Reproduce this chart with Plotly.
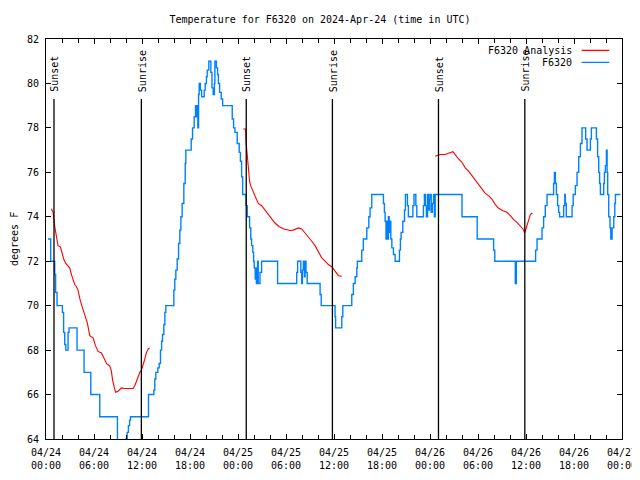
import plotly.graph_objects as go
import pandas as pd

START = pd.Timestamp("2024-04-24 00:00")
END = pd.Timestamp("2024-04-27 00:00")

# Observed F6320 temperatures (hours since 04/24 00:00 UTC, degrees F)
obs_hours = [0.25, 0.59, 1.09, 1.2, 1.38, 2.05, 2.2, 2.34, 2.47, 2.76, 2.88, 3.88, 4.76, 5.6, 6.72,
             8.93, 10.0, 10.15, 10.3, 10.45, 10.56, 12.81, 13.48, 13.6, 13.73, 13.98, 14.15, 14.31,
             14.45, 14.56, 14.73, 14.86, 14.98, 15.82, 15.98, 16.1, 16.23, 16.4, 16.57, 16.73, 16.86,
             17.02, 17.23, 17.4, 17.48, 18.03, 18.15, 18.32, 18.52, 18.69, 18.78, 18.9, 18.98, 19.07,
             19.15, 19.3, 19.45, 19.78, 19.9, 20.05, 20.15, 20.35, 20.61, 20.75, 20.9, 21.05, 21.11,
             21.3, 21.45, 21.55, 21.7, 21.9, 22.08, 23.28, 23.45, 23.62, 23.9, 24.15, 24.3, 24.45,
             24.58, 25.0, 25.16, 25.45, 25.6, 25.7, 25.85, 25.95, 26.03, 26.15, 26.2, 26.3, 26.45,
             26.53, 26.75, 26.95, 28.95, 31.34, 31.45, 31.85, 31.96, 32.05, 32.17, 32.3, 32.38, 32.5,
             32.65, 34.26, 34.4, 36.13, 36.2, 36.97, 37.1, 38.22, 38.42, 38.64, 38.85, 38.92, 39.47,
             39.67, 40.1, 40.35, 40.51, 40.72, 42.18, 42.3, 42.39, 42.5, 42.6, 42.7, 42.8, 42.9, 43.02,
             43.1, 43.23, 43.43, 43.64, 44.18, 44.3, 44.39, 44.6, 44.81, 44.93, 45.18, 45.3, 45.86,
             46.0, 46.23, 46.35, 47.18, 47.3, 47.43, 47.55, 47.69, 47.85, 47.94, 48.05, 48.15, 48.3,
             48.44, 48.55, 48.65, 52.0, 53.9, 55.95, 56.1, 58.66, 58.79, 61.2, 61.38, 62.0, 62.2,
             62.41, 62.63, 63.45, 63.55, 63.67, 63.8, 63.95, 64.08, 64.2, 64.71, 64.85, 64.92, 65.04,
             65.76, 65.9, 66.17, 66.38, 66.59, 66.8, 67.0, 67.46, 67.63, 68.05, 68.17, 68.8, 68.95,
             69.09, 69.2, 69.3, 69.71, 69.8, 69.92, 70.05, 70.14, 70.21, 70.34, 70.5, 70.6, 70.76,
             70.97, 71.1, 71.18, 71.8]
obs_temps = [73, 72, 71.4, 70.6, 70, 69.7, 68.8, 68.25, 68, 68.8, 69, 68, 67, 66, 65,
             63, 64, 64.3, 64.6, 64.85, 65, 66, 66.2, 66.7, 67.0, 67.2, 67.4, 68.0,
             68.4, 68.7, 69.15, 69.7, 70, 70, 70.7, 71.2, 71.6, 72.1, 72.8, 73.4, 74.0,
             74.6, 75.5, 76.4, 77, 77, 77.5, 78, 78.5, 79, 78.5, 79, 78, 79.5,
             80, 79.7, 79.4, 79.7, 80, 80.3, 80.6, 81, 80.5, 79.8, 79.5, 80, 81,
             80.7, 80.4, 80, 79.6, 79.3, 79, 78.4, 78, 77.8, 77.3, 76.9, 76.5, 75.8,
             75, 74.5, 74, 73.5, 73, 72.7, 72.4, 72, 71.7, 71.2, 71.7, 71, 72,
             71, 71.5, 72, 71, 71.5, 72, 71.5, 71, 71.6, 72, 71.3, 72, 71.5,
             71, 70.5, 70, 69.5, 69, 69.5, 70, 70.5, 71, 71.3, 71.7, 72, 72.5,
             73, 73.5, 74, 74.4, 75, 74.6, 74.2, 73.8, 73, 73.8, 73, 74, 73.3, 73.8,
             73, 72.6, 72.3, 72.0, 72.5, 73, 73.3, 73.8, 74.3, 75, 74.5, 74, 74.5,
             75, 74.5, 74, 74.5, 75, 74.5, 74, 75, 74.3, 74.8, 75, 74.2, 74.6,
             75, 74, 75, 74, 73, 72.5, 72, 71, 72, 72.5, 73, 73.5, 74,
             74.5, 75, 75.5, 76, 75.5, 75, 74.5, 74.2, 74, 74.5, 75, 74.6, 74,
             74.5, 75, 75.4, 76, 76.7, 77.3, 78, 77.5, 77, 77.5, 78, 77.5, 76.7,
             76, 75.5, 75, 75.5, 76, 76.3, 77, 76, 75, 74, 73.5, 73, 73.5,
             74, 74.6, 75, 75]

# Analysis temperatures, three separate runs
ana_hours_1 = [0.67, 0.88, 1.09, 1.3, 1.5, 1.8, 2.0, 2.21, 2.47, 2.75, 2.97, 3.18, 3.38, 3.59, 3.8,
               4.0, 4.3, 4.63, 4.9, 5.18, 5.47, 5.89, 6.18, 6.51, 6.93, 7.26, 7.6, 7.95, 8.15, 8.35,
               8.55, 8.69, 9.01, 9.43, 9.85, 10.48, 10.89, 11.1, 11.31, 11.52, 11.73, 11.94, 12.14,
               12.35, 12.57, 12.77, 12.98]
ana_temps_1 = [74.36, 74.2, 73.57, 73.1, 72.7, 72.65, 72.4, 72.1, 71.9, 71.8, 71.7, 71.4, 71.2, 70.95,
               70.85, 70.7, 70.2, 69.85, 69.55, 69.2, 68.65, 68.55, 68.2, 67.94, 67.87, 67.6, 67.38,
               67.3, 67.1, 66.6, 66.2, 66.1, 66.15, 66.3, 66.27, 66.25, 66.27, 66.4, 66.6, 66.8,
               67.0, 67.1, 67.3, 67.6, 67.9, 68.05, 68.1]
ana_hours_2 = [24.66, 24.95, 25.0, 25.08, 25.28, 25.45, 25.58, 25.83, 26.12, 26.53, 26.96, 27.37,
               27.78, 28.21, 28.62, 29.16, 29.75, 30.5, 30.91, 31.54, 31.96, 32.38, 32.79, 33.22,
               33.63, 34.04, 34.47, 34.88, 35.29, 35.72, 36.13, 36.55, 36.97]
ana_temps_2 = [77.95, 77.95, 77.4, 77.0, 76.1, 75.6, 75.4, 75.2, 75.0, 74.6, 74.5, 74.3, 74.15, 73.9,
               73.72, 73.55, 73.45, 73.38, 73.4, 73.5, 73.45, 73.27, 73.1, 72.9, 72.7, 72.45, 72.15,
               72.0, 71.85, 71.75, 71.55, 71.35, 71.32]
ana_hours_3 = [48.65, 49.27, 49.9, 50.32, 50.61, 50.86, 51.03, 51.28, 51.57, 51.99, 52.4, 52.82,
               53.24, 53.65, 54.07, 54.49, 54.91, 55.32, 55.74, 56.16, 56.57, 57.12, 57.62, 58.04,
               58.45, 58.87, 59.29, 59.62, 59.85, 60.08, 60.33, 60.54, 60.79]
ana_temps_3 = [76.72, 76.8, 76.8, 76.85, 76.9, 76.93, 76.85, 76.72, 76.6, 76.45, 76.2, 76.05, 75.85,
               75.65, 75.5, 75.25, 75.05, 74.95, 74.8, 74.55, 74.38, 74.27, 74.2, 74.05, 73.87,
               73.75, 73.6, 73.45, 73.28, 73.6, 73.85, 74.1, 74.17]

sunset_hours = [1.0, 25.03, 49.06]
sunrise_hours = [11.92, 35.8, 59.85]
y_ticks = list(range(64, 83, 2))

TITLE = "Temperature for F6320 on 2024-Apr-24 (time in UTC)"
FONT = "DejaVu Sans Mono"

# the page places the figure 8px from the top-left corner, so the figure is 632x472
FIG_W, FIG_H = 632, 472


def to_time(hours):
    return [(START + pd.Timedelta(hours=h)).strftime("%Y-%m-%d %H:%M:%S") for h in hours]


ana_x = to_time(ana_hours_1) + [None] + to_time(ana_hours_2) + [None] + to_time(ana_hours_3)
ana_y = ana_temps_1 + [None] + ana_temps_2 + [None] + ana_temps_3

fig = go.Figure()
fig.add_trace(go.Scatter(x=to_time(obs_hours), y=obs_temps, mode="lines", name="F6320",
                         line=dict(color="#0080ff", width=1.4, shape="hv")))
fig.add_trace(go.Scatter(x=ana_x, y=ana_y, mode="lines", name="F6320 Analysis",
                         line=dict(color="#ff0000", width=1.1), connectgaps=False))

shapes = []
annotations = []
for label, hours in (("Sunset", sunset_hours), ("Sunrise", sunrise_hours)):
    for t in to_time(hours):
        shapes.append(dict(type="line", xref="x", yref="paper", x0=t, x1=t, y0=0, y1=0.85,
                           line=dict(color="black", width=1.3)))
        annotations.append(dict(x=t, xref="x", y=0.863, yref="paper", text=label,
                                textangle=-90, showarrow=False, xanchor="center",
                                yanchor="bottom", xshift=1, font=dict(size=10)))

# legend (gnuplot style: text then sample line)
for i, (name, color) in enumerate((("F6320 Analysis", "#ff0000"), ("F6320", "#0080ff"))):
    yy = 0.9715 - i * 0.03
    annotations.append(dict(x=0.9167, xref="paper", y=yy, yref="paper", text=name,
                            showarrow=False, xanchor="right", yanchor="middle",
                            font=dict(size=10)))
    shapes.append(dict(type="line", xref="paper", yref="paper", x0=0.930, x1=0.978,
                       y0=yy, y1=yy, line=dict(color=color, width=1.3)))

# y-axis title, kept inside the figure's left edge
annotations.append(dict(x=(6 - 38) / 576, xref="paper", y=0.5, yref="paper", text="degrees F",
                        textangle=-90, showarrow=False, xanchor="center", yanchor="middle",
                        font=dict(size=10)))

fig.update_layout(
    width=FIG_W, height=FIG_H,
    margin=dict(l=38, r=18, t=31, b=41, autoexpand=False),
    paper_bgcolor="white", plot_bgcolor="white",
    font=dict(family=FONT, size=10, color="black"),
    showlegend=False,
    title=dict(text=TITLE, x=312 / FIG_W, xanchor="center", y=1 - 11 / FIG_H, yanchor="middle",
               font=dict(size=10)),
    shapes=shapes, annotations=annotations,
)
fig.update_xaxes(
    type="date", range=[START.strftime("%Y-%m-%d %H:%M"), END.strftime("%Y-%m-%d %H:%M")],
    tick0=START.strftime("%Y-%m-%d"), dtick=6 * 3600 * 1000, tickformat="%m/%d<br>%H:%M",
    ticks="inside", ticklen=5, tickcolor="black", showline=True, linecolor="black", linewidth=1,
    mirror="ticks", showgrid=False, zeroline=False, ticklabelstandoff=4, automargin=False,
    minor=dict(dtick=2 * 3600 * 1000, ticks="inside", ticklen=4, tickcolor="black", showgrid=False),
)
fig.update_yaxes(
    range=[64, 82], tickvals=y_ticks, ticks="inside", ticklen=5, tickcolor="black",
    showline=True, linecolor="black", linewidth=1, mirror="ticks", showgrid=False,
    zeroline=False, ticklabelstandoff=4, automargin=False,
)

fig.write_html("out.html")
